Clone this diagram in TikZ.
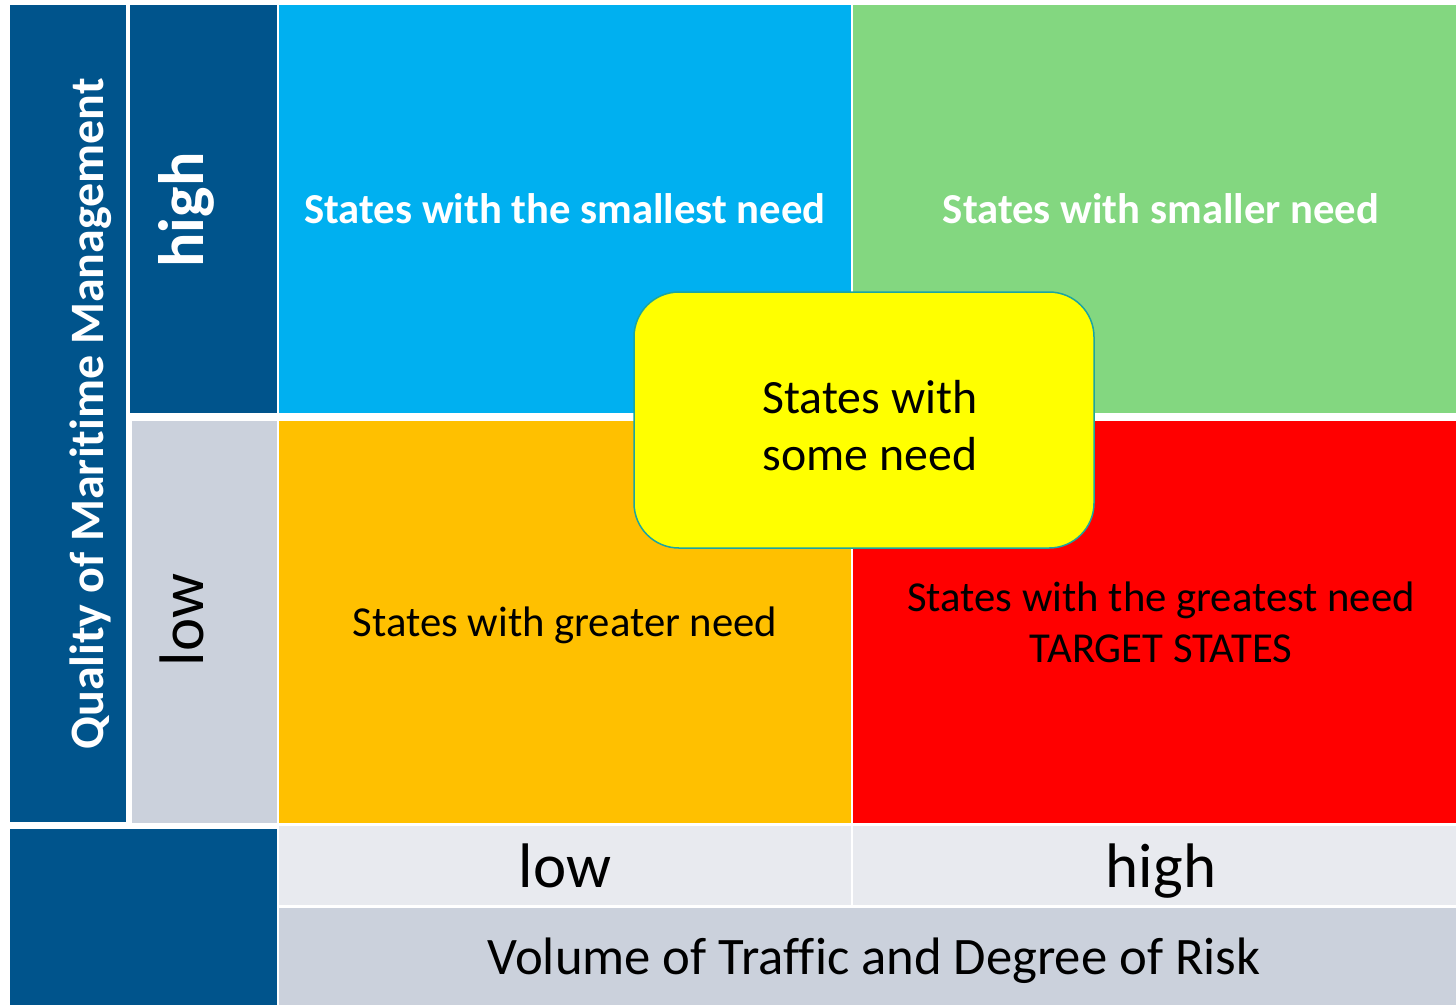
\documentclass[tikz,border=0pt]{standalone}
\usepackage{fontspec}
\setmainfont{Carlito}[Ligatures=NoCommon]
\usetikzlibrary{positioning}

\newlength\px
\setlength\px{0.02cm}

\definecolor{navy}{RGB}{0,84,140}
\definecolor{qblue}{RGB}{0,176,240}
\definecolor{qgreen}{RGB}{131,215,128}
\definecolor{qorange}{RGB}{255,192,0}
\definecolor{qred}{RGB}{255,0,0}
\definecolor{qyellow}{RGB}{255,255,0}
\definecolor{rimteal}{RGB}{28,165,160}
\definecolor{greyA}{RGB}{203,209,220}
\definecolor{greyB}{RGB}{232,234,239}

\begin{document}
\begin{tikzpicture}[
    x=\px, y=-\px,
    %–––– GLOBAL STYLE TWEAKS ––––
    cell/.style     = {rectangle, inner sep=0pt, outer sep=0pt, align=center},
    oneline/.style  = {text height=#1, text depth=0pt},
    quad/.style     = {cell, minimum width=572\px, font=\fontsize{24.3}{29.2}\selectfont},
    widequad/.style = {quad, minimum width=616\px},      % runs past the right edge
    boldtext/.style = {text=white, font=\fontsize{24.3}{29.2}\selectfont\bfseries},
    tickcell/.style = {cell, fill=greyB, minimum height=79\px,
                       font=\fontsize{35.8}{43}\selectfont, oneline=25pt},
    axiscell/.style = {cell, fill=greyA, minimum width=1190\px, minimum height=97\px,
                       font=\fontsize{30}{36}\selectfont, oneline=21pt},
    vlabel/.style   = {inner sep=0pt, rotate=90, oneline=25pt,
                       font=\fontsize{35.8}{43}\selectfont},
    needbox/.style  = {rectangle, rounded corners=45\px, fill=qyellow, draw=rimteal,
                       line width=1.5\px, minimum width=460\px, minimum height=256\px},
]
\useasboundingbox (0,0) rectangle (1456,1005);

%–––– QUADRANTS ––––
\node (smallest) [quad, fill=qblue, minimum height=408\px, boldtext, oneline=17pt]
      at (565,209) {States with the smallest need};
\node (smaller)  [widequad, fill=qgreen, minimum height=408\px, boldtext, oneline=17pt,
                  right=2\px of smallest] {States with smaller need};
\node (greater)  [quad, fill=qorange, minimum height=402\px, oneline=17pt,
                  below=8\px of smallest] {States with greater need};
\node (greatest) [widequad, fill=qred, minimum height=402\px,
                  right=2\px of greater] {States with the greatest need\\TARGET STATES};

%–––– VERTICAL AXIS ––––
\node (qualbar) [cell, fill=navy, minimum width=116\px, minimum height=817\px] at (68,413.5) {};
\node (qualtxt) [vlabel, text=white, oneline=19pt,
                 font=\fontsize{27.3}{32}\selectfont\bfseries] at (87,414) {Quality of Maritime Management};

\node (yhigh) [cell, fill=navy, minimum width=147\px, minimum height=408\px,
               left=2\px of smallest] {};
\node (yhightxt) [vlabel, text=white, font=\fontsize{36.5}{43}\selectfont\bfseries] at (182,210) {high};

\node (ylow)  [cell, fill=greyA, minimum width=145\px, minimum height=402\px,
               left=2\px of greater] {};
\node (ylowtxt) [vlabel] at (182,620) {low};

%–––– HORIZONTAL AXIS ––––
\node (xlow)  [tickcell, minimum width=572\px, below=3\px of greater] {low};
\node (xhigh) [tickcell, minimum width=616\px, right=2\px of xlow] {high};
\node (xaxis) [axiscell, anchor=north west, below right=3\px and 0pt of xlow.south west]
      {Volume of Traffic and Degree of Risk};

\node (corner) [cell, fill=navy, minimum width=267\px, minimum height=176\px,
                anchor=north east, below left=6\px and 0pt of ylow.south east] {};

%–––– CENTRE BOX ––––
\node (some) [needbox] at (864,420) {};
\node (sometxt) [align=center, inner sep=0pt, font=\fontsize{27.2}{32.5}\selectfont]
      at (870,426) {States with\\some need};
\end{tikzpicture}
\end{document}
